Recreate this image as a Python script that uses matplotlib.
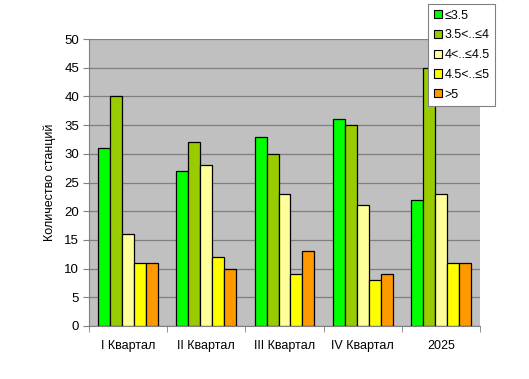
import matplotlib
matplotlib.use("Agg")
import matplotlib.pyplot as plt
from matplotlib.patches import Patch
import numpy as np

plt.rcParams["font.family"] = ["Liberation Sans", "DejaVu Sans"]

categories = ["I Квартал", "II Квартал", "III Квартал", "IV Квартал", "2025"]
series_names = ["≤3.5", "3.5<..≤4", "4<..≤4.5", "4.5<..≤5", ">5"]
le_35 = [31, 27, 33, 36, 22]
s35_4 = [40, 32, 30, 35, 45]
s4_45 = [16, 28, 23, 21, 23]
s45_5 = [11, 12, 9, 8, 11]
gt_5 = [11, 10, 13, 9, 11]
colors = ["#00FF00", "#99CC00", "#FFFF99", "#FFFF00", "#FF9900"]

fig = plt.figure(figsize=(5.29, 3.79), dpi=100)
ax = fig.add_axes([89/529, 53/379, 391/529, 287/379])
ax.set_facecolor("#C0C0C0")

xs = np.arange(len(categories))
w = 0.153
data = [le_35, s35_4, s4_45, s45_5, gt_5]
for i, (vals, col) in enumerate(zip(data, colors)):
    ax.bar(xs + (i - 2) * w, vals, width=w, color=col, edgecolor="black", lw=0.9, zorder=3)

ax.set_xlim(-0.5, len(categories) - 0.5)
ax.set_ylim(0, 50)
ax.set_yticks(range(0, 51, 5))
ax.grid(axis="y", color="#808080", lw=0.9, zorder=0)
ax.set_xticks(xs)
ax.set_xticklabels(categories, fontsize=9)
ax.set_xticks(np.arange(-0.5, len(categories)), minor=True)
ax.tick_params(axis="x", which="major", length=0, pad=10)
ax.tick_params(axis="x", which="minor", length=4, color="#808080")
ax.tick_params(axis="y", length=4, color="#808080", labelsize=9.5, pad=3)
for s in ["top", "right"]:
    ax.spines[s].set_visible(False)
for s in ["left", "bottom"]:
    ax.spines[s].set_color("#808080")
ax.set_ylabel("Количество станций", fontsize=9, labelpad=6)

handles = [Patch(facecolor=c, edgecolor="black", lw=0.8) for c in colors]
leg = fig.legend(handles, series_names, loc="upper left", bbox_to_anchor=(428/529, 1 - 4/379),
                 fontsize=9, frameon=True, fancybox=False, framealpha=1,
                 handlelength=0.65, handleheight=0.65, handletextpad=0.2,
                 labelspacing=0.62, borderpad=0.45, borderaxespad=0)
leg.get_frame().set_edgecolor("#808080")
leg.get_frame().set_linewidth(0.8)

fig.savefig("out.png", dpi=100, facecolor="white")
